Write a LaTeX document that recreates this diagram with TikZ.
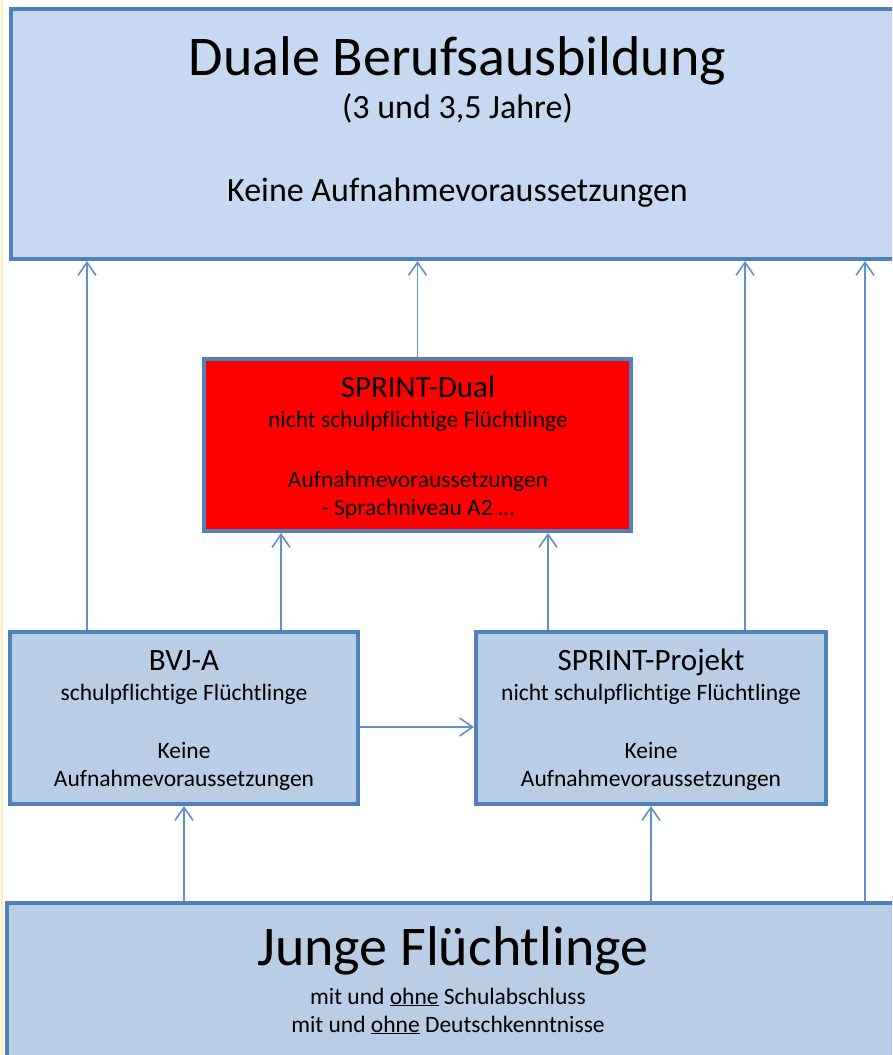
\documentclass[tikz,border=0pt]{standalone}
\usepackage{fontspec}
\setmainfont{Carlito}[Ligatures=NoCommon]
\usetikzlibrary{arrows.meta}
\definecolor{boxtop}{RGB}{198,217,240}
\definecolor{boxfill}{RGB}{185,205,229}
\definecolor{boxline}{RGB}{79,129,189}
\definecolor{arrline}{RGB}{95,145,205}
\definecolor{dualred}{RGB}{255,0,0}
\definecolor{edgeyel}{RGB}{255,238,180}

\begin{document}
\begin{tikzpicture}[x=1pt,y=-1pt,
  box/.style={rectangle,draw=boxline,line width=4pt,fill=boxfill,inner sep=0pt},
  arr/.style={draw=arrline,line width=1.6pt,-{Straight Barb[length=13pt,width=18pt]}},
  txt/.style={inner sep=0pt,anchor=base,font=\fontsize{23.5}{28}\selectfont},
  ttl/.style={inner sep=0pt,anchor=base,font=\fontsize{31}{36}\selectfont}]
  \useasboundingbox (0,0) rectangle (892,1055);
  \clip (0,0) rectangle (892,1055);
  \draw[edgeyel,line width=1.5pt] (2,0) -- (2,1055);
  % boxes
  \node[box,fill=boxtop,minimum width=889pt,minimum height=250pt] (duale) at (455.5,134) {};
  \node[box,fill=dualred,minimum width=427pt,minimum height=172pt] (dual) at (417.5,445) {};
  \node[box,minimum width=348pt,minimum height=172pt] (bvj) at (184,718) {};
  \node[box,minimum width=350pt,minimum height=172pt] (projekt) at (651,718) {};
  \node[box,minimum width=893pt,minimum height=167pt] (junge) at (453.5,986.5) {};
  % texts
  \node[txt,font=\fontsize{56}{60}\selectfont] (dualeT) at (457.5,75) {Duale Berufsausbildung};
  \node[txt,font=\fontsize{34}{40}\selectfont] (dualeJ) at (457.5,118) {(3 und 3,5 Jahre)};
  \node[txt,font=\fontsize{34}{40}\selectfont] (dualeK) at (457.5,201) {Keine Aufnahmevoraussetzungen};
  \node[ttl] (dualT) at (418,397) {SPRINT-Dual};
  \foreach \y/\t in {427/nicht schulpflichtige Flüchtlinge, 487/Aufnahmevoraussetzungen, 515/- Sprachniveau A2 \dots}
    \node[txt] (dual\y) at (418,\y) {\t};
  \foreach \n/\x/\t/\s in {bvj/184/BVJ-A/schulpflichtige Flüchtlinge, projekt/651/SPRINT-Projekt/nicht schulpflichtige Flüchtlinge} {
    \node[ttl] (\n T) at (\x,670) {\t};
    \node[txt] (\n S) at (\x,700) {\s};
    \node[txt] (\n K) at (\x,758) {Keine};
    \node[txt] (\n A) at (\x,786) {Aufnahmevoraussetzungen};
  }
  \node[txt,font=\fontsize{56}{60}\selectfont] (jungeT) at (453,965) {Junge Flüchtlinge};
  \node[txt] (jungeS) at (448,1004) {mit und \underline{ohne} Schulabschluss};
  \node[txt] (jungeD) at (448,1032) {mit und \underline{ohne} Deutschkenntnisse};
  % arrows
  \coordinate (xa) at (87,0);
  \coordinate (xb) at (281,0);
  \coordinate (xc) at (548,0);
  \coordinate (xd) at (745,0);
  \coordinate (xe) at (865,0);
  \coordinate (ym) at (0,727);
  \draw[arr] (bvj.north-|xa) -- (duale.south-|xa);
  \draw[arr] (dual.north) -- (duale.south-|dual.north);
  \draw[arr] (projekt.north-|xd) -- (duale.south-|xd);
  \draw[arr] (junge.north-|xe) -- (duale.south-|xe);
  \draw[arr] (bvj.north-|xb) -- (dual.south-|xb);
  \draw[arr] (projekt.north-|xc) -- (dual.south-|xc);
  \draw[arr] (bvj.east|-ym) -- (projekt.west|-ym);
  \draw[arr] (junge.north-|bvj.south) -- (bvj.south);
  \draw[arr] (junge.north-|projekt.south) -- (projekt.south);
\end{tikzpicture}
\end{document}
